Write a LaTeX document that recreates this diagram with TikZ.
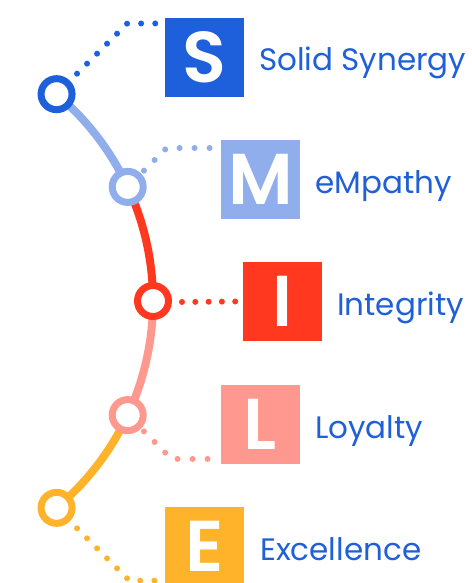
\documentclass[tikz,border=0pt]{standalone}
\usepackage{fontspec}
\setmainfont{Poppins}
\newfontfamily\boxfont{Poppins SemiBold}
\usetikzlibrary{calc}
\definecolor{cS}{HTML}{1E5FDB}
\definecolor{cM}{HTML}{8FAEEB}
\definecolor{cI}{HTML}{FF381F}
\definecolor{cL}{HTML}{FF9990}
\definecolor{cE}{HTML}{FFB32B}
\definecolor{txt}{HTML}{1F5FD8}
\tikzset{
  spine/.style={line width=8pt},
  ring/.style={circle, draw=#1, line width=7pt, fill=white, minimum size=31pt, inner sep=0pt},
  dotline/.style={draw=#1, line width=6pt, line cap=round, dash pattern=on 0pt off 14.14pt},
  letterbox/.style={fill=#1, minimum size=79pt, inner sep=0pt, text=white, font=\fontsize{72}{72}\selectfont\boxfont},
  lbl/.style={anchor=base west, inner sep=0pt, text=txt, font=\fontsize{31}{31}\selectfont},
}
\begin{document}
\begin{tikzpicture}[x=1pt,y=-1pt]
\useasboundingbox (0,0) rectangle (471,583);
\coordinate (C) at (-117,301);
\coordinate (pS) at ($(C)+(-50:270)$);
\coordinate (pM) at ($(C)+(-25:270)$);
\coordinate (pI) at ($(C)+(0:270)$);
\coordinate (pL) at ($(C)+(25:270)$);
\coordinate (pE) at ($(C)+(50:270)$);
% corners of dotted connectors
\coordinate (kS) at ($(pS)+(-45:100)$);
\coordinate (kM) at ($(pM)+(-45:55)$);
\coordinate (kL) at ($(pL)+(45:62)$);
\coordinate (kE) at ($(pE)+(45:103)$);
% boxes
\node[letterbox=cS] (bS) at (204.5,57.5) {S};
\node[letterbox=cM] (bM) at (260.5,179.5) {M};
\node[letterbox=cI] (bI) at (282.5,301.5) {I};
\node[letterbox=cL] (bL) at (260.5,424.5) {L};
\node[letterbox=cE] (bE) at (204.5,546.5) {E};
% labels
\node[lbl] (tS) at (259,71) {Solid Synergy};
\node[lbl] (tM) at (315,193) {eMpathy};
\node[lbl] (tI) at (337,315) {Integrity};
\node[lbl] (tL) at (315,438) {Loyalty};
\node[lbl] (tE) at (260,560) {Excellence};
% end points of dotted connectors
\coordinate (eS) at ($(kS -| bS.west)+(-7,0)$);
\coordinate (eM) at ($(kM -| bM.west)+(-8,0)$);
\coordinate (eL) at ($(kL -| bL.west)+(-8,0)$);
\coordinate (eE) at ($(kE -| bE.west)+(-7,0)$);
% spine
\draw[spine, cM] (pS) arc[start angle=-50, end angle=-25, radius=270];
\draw[spine, cI] (pM) arc[start angle=-25, end angle=0, radius=270];
\draw[spine, cL] (pI) arc[start angle=0, end angle=25, radius=270];
\draw[spine, cE] (pL) arc[start angle=25, end angle=50, radius=270];
% dotted connectors
\draw[dotline=cS] ($(pS)+(-45:29)$) -- (kS) -- (eS);
\draw[dotline=cM, dash pattern=on 0pt off 15pt] ($(pM)+(-45:23)$) -- (kM) -- (eM);
\draw[dotline=cI, dash pattern=on 0pt off 13.3pt] ($(pI)+(29,1)$) -- ($(bI.west)+(-7,0)$);
\draw[dotline=cL, dash pattern=on 0pt off 15pt] ($(pL)+(45:23)$) -- (kL) -- (eL);
\draw[dotline=cE] ($(pE)+(45:29)$) -- (kE) -- (eE);
% rings
\node[ring=cS] (rS) at (pS) {};
\node[ring=cM] (rM) at (pM) {};
\node[ring=cI] (rI) at (pI) {};
\node[ring=cL] (rL) at (pL) {};
\node[ring=cE] (rE) at (pE) {};
\end{tikzpicture}
\end{document}
